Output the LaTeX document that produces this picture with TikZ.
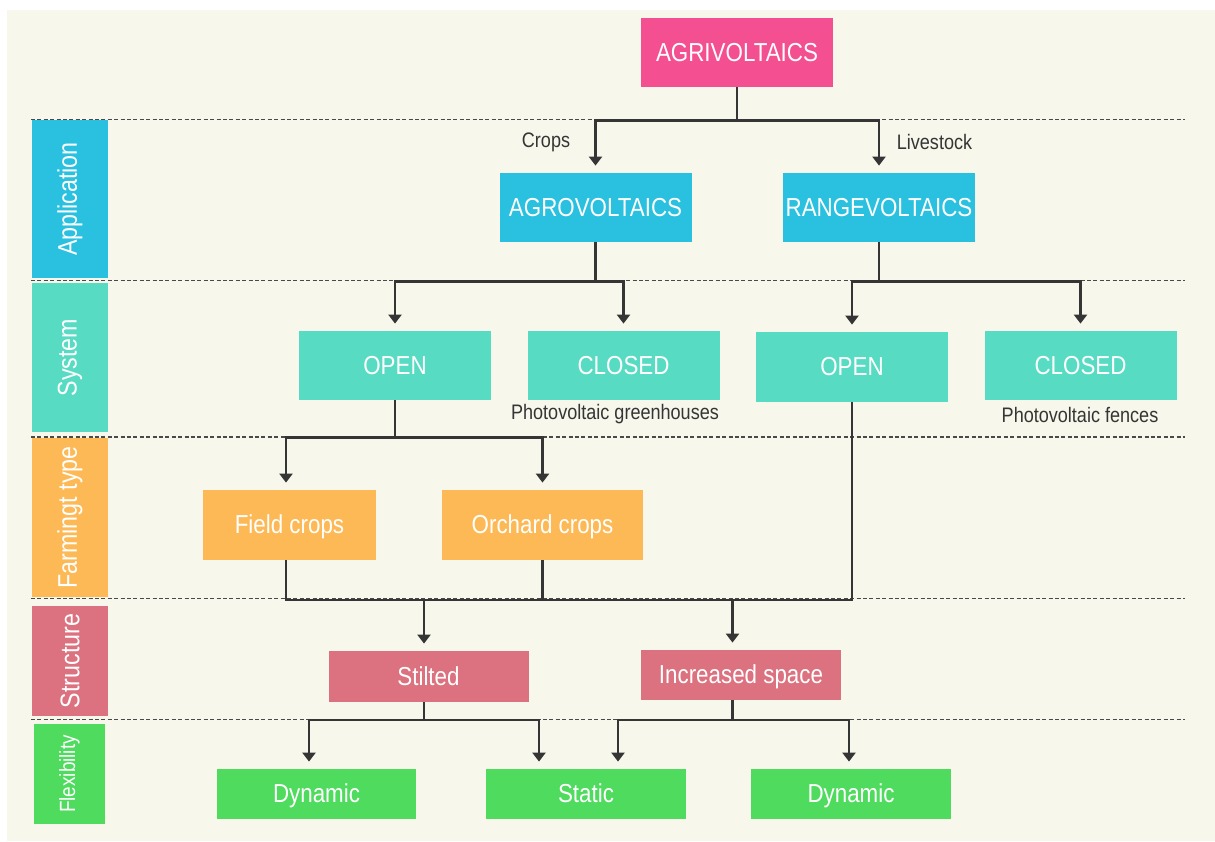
\documentclass[tikz,border=0pt]{standalone}
\usepackage{fontspec}
\setmainfont{Liberation Sans}[FakeStretch=0.86]
\usepackage{xcolor}
\usetikzlibrary{arrows.meta,calc,positioning}

\definecolor{bgcream}{HTML}{F7F7EC}
\definecolor{linegray}{HTML}{353535}
\definecolor{agricol}{HTML}{F45091}
\definecolor{applcol}{HTML}{29C1DF}
\definecolor{syscol}{HTML}{57DCC3}
\definecolor{farmcol}{HTML}{FDB955}
\definecolor{struccol}{HTML}{DC717F}
\definecolor{flexcol}{HTML}{4EDB5E}

\begin{document}
\begin{tikzpicture}[x=0.5pt,y=-0.5pt,
	box/.style={rectangle,inner sep=0pt,text=white,minimum width=96pt,minimum height=34.5pt,
		text height=9.4pt,text depth=0.6pt,font=\fontsize{13}{15}\selectfont},
	topbox/.style={box,fill=agricol},
	appbox/.style={box,fill=applcol},
	sysbox/.style={box,fill=syscol},
	farmbox/.style={box,fill=farmcol,minimum height=35pt},
	strucbox/.style={box,fill=struccol,minimum width=100pt,minimum height=25pt},
	flexbox/.style={box,fill=flexcol,minimum width=100pt,minimum height=25pt},
	sidebox/.style={rectangle,inner sep=0pt,rotate=90,text=white,minimum height=38pt,
		font=\fontsize{13.5}{15}\selectfont},
	note/.style={text=linegray,font=\fontsize{10.5}{12}\selectfont},
	link/.style={draw=linegray,line width=1.25pt},
	arr/.style={link,-{Triangle[width=6.5pt,length=4.5pt]},shorten >=3.5pt},
	sep/.style={draw=linegray!90,line width=0.9pt,dash pattern=on 2pt off 1.2pt}]

	\useasboundingbox (0,0) rectangle (1215,841);
	\fill[white] (0,0) rectangle (1215,841);
	\fill[bgcream] (7,10) rectangle (1215,841);

	\foreach \yy in {119.5,280.5,437,598.5,719.5}
		\draw[sep] (31,\yy) -- (1185,\yy);

	\node[sidebox,fill=applcol,minimum width=79pt] (appl) at (70,199) {Application};
	\node[sidebox,fill=syscol,minimum width=74.5pt] (syst) at (70,357.5) {System};
	\node[sidebox,fill=farmcol,minimum width=79.5pt] (farm) at (70,517.5) {Farmingt type};
	\node[sidebox,fill=struccol,minimum width=55pt] (struc) at (70,661) {Structure};
	\node[sidebox,fill=flexcol,minimum width=50pt,minimum height=35.5pt,
		font=\fontsize{11}{13}\selectfont] (flex) at (69.5,774) {Flexibility};

	\node[topbox] (agri) at (737,52.5) {AGRIVOLTAICS};
	\node[appbox] (agro) at (595.5,207.5) {AGROVOLTAICS};
	\node[appbox] (range) at (879,207.5) {RANGEVOLTAICS};
	\node[sysbox] (opena) at (395,365.5) {OPEN};
	\node[sysbox] (closeda) at (623.5,365.5) {CLOSED};
	\node[sysbox,minimum height=35pt] (openb) at (852,367) {OPEN};
	\node[sysbox] (closedb) at (1080.5,365.5) {CLOSED};
	\node[farmbox,minimum width=86.5pt] (field) at (289.5,525) {Field crops};
	\node[farmbox,minimum width=100.5pt] (orchard) at (542.5,525) {Orchard crops};
	\node[strucbox,minimum height=25.5pt] (stilted) at (428.5,676.5) {Stilted};
	\node[strucbox] (incsp) at (741,675) {Increased space};
	\node[flexbox,minimum width=99.5pt] (dyna) at (316.5,794) {Dynamic};
	\node[flexbox] (static) at (586,794) {Static};
	\node[flexbox] (dynb) at (851,794) {Dynamic};

	\node[note] (crops) at (546,142) {Crops};
	\node[note] (stock) at (934.5,142) {Livestock};
	\node[note] (greenh) at (615,414) {Photovoltaic greenhouses};
	\node[note] (fences) at (1080,415) {Photovoltaic fences};

	\path ($(stilted.north)+(-4.5,0)$) coordinate (stin)
		($(incsp.north)+(-8.5,0)$) coordinate (incin)
		($(dyna.north)+(-7.5,0)$) coordinate (dynain)
		($(static.north)+(-47,0)$) coordinate (statl)
		($(static.north)+(32,0)$) coordinate (statr)
		($(dynb.north)+(-2,0)$) coordinate (dynbin);

	\draw[link] (agri.south) -- ++(0,33) coordinate (a1);
	\draw[arr] (a1) -| (agro.north);
	\draw[arr] (a1) -| (range.north);

	\draw[link] (agro.south) -- ++(0,39) coordinate (b1);
	\draw[arr] (b1) -| (opena.north);
	\draw[arr] (b1) -| (closeda.north);
	\draw[link] (range.south) -- ++(0,39) coordinate (b2);
	\draw[arr] (b2) -| (openb.north);
	\draw[arr] (b2) -| (closedb.north);

	\draw[link] (opena.south) -- ++(0,37) coordinate (c1);
	\draw[arr] (c1) -| ([xshift=-1.75pt]field.north);
	\draw[arr] (c1) -| (orchard.north);

	\draw[link] ([xshift=-1.75pt]field.south) -- ++(0,39.5) coordinate (m1) -| (openb.south);
	\draw[link] (orchard.south) -- (orchard.south |- m1);
	\draw[arr] (stin |- m1) -- (stin);
	\draw[arr] (incin |- m1) -- (incin);

	\draw[link] (stin |- stilted.south) -- ++(0,17.5) coordinate (f1);
	\draw[arr] (f1) -| (dynain);
	\draw[arr] (f1) -| (statl);
	\draw[link] (incin |- incsp.south) -- ++(0,19.5) coordinate (f2);
	\draw[arr] (f2) -| (statr);
	\draw[arr] (f2) -| (dynbin);
\end{tikzpicture}
\end{document}
